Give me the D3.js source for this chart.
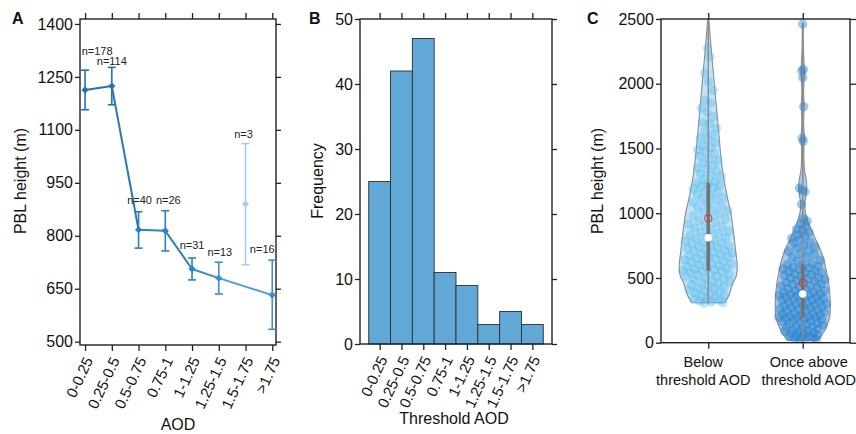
<!DOCTYPE html>
<html><head><meta charset="utf-8">
<script src="https://cdn.jsdelivr.net/npm/d3@7"></script>
<style>
body{margin:0;background:#fff;}
svg{display:block;font-family:"Liberation Sans",Arial,Helvetica,sans-serif;}
</style></head><body>
<svg id="chart" width="856" height="434"></svg>
<script>
// ---------------- DATA ----------------
const aodCats = ["0-0.25","0.25-0.5","0.5-0.75","0.75-1","1-1.25","1.25-1.5","1.5-1.75",">1.75"];
const pblMean  = [1213,1224,817,814,706,680,890,632];
const pblUpper = [1269,1277,868,871,737,725,1061,731];
const pblLower = [1157,1171,765,757,675,635,718,535];
const sampleN  = [178,114,40,26,31,13,3,16];
const pblTicks = [500,650,800,950,1100,1250,1400];

const thresholdCats = ["0-0.25","0.25-0.5","0.5-0.75","0.75-1","1-1.25","1.25-1.5","1.5-1.75",">1.75"];
const frequency = [25,42,47,11,9,3,5,3];
const freqTicks = [0,10,20,30,40,50];

const groupLabels = [["Below","threshold AOD"],["Once above","threshold AOD"]];
const violinTicks = [0,500,1000,1500,2000,2500];
const belowPBL = [305,310,314,322,328,335,341,350,356,368,372,385,391,396,408,415,419,431,440,447,455,462,470,474,487,493,500,509,515,522,530,533,541,548,552,556,
  562,568,575,580,588,594,600,607,612,620,627,633,640,646,652,660,665,672,680,686,693,700,706,712,720,728,735,741,748,756,763,770,778,786,795,803,811,
  820,830,842,851,860,872,883,895,905,918,930,941,955,968,980,993,1005,1018,1030,1045,1058,1072,1085,1098,1110,1122,1135,1148,1160,1172,1185,1196,1205,1215,1226,1235,
  1245,1262,1280,1290,1305,1322,1340,1352,1370,1388,1405,1420,1440,1458,1475,1490,1505,1522,1545,1565,1580,1605,1630,1655,1690,1700,1745,1780,1812,1850,1870,1950,2016,2083,2209,2276];
const abovePBL = [22,25,30,34,38,44,47,52,58,61,66,72,78,83,88,94,99,105,112,118,122,128,133,140,146,150,157,162,168,173,178,182,187,190,193,197,
  201,206,212,216,221,227,231,237,242,246,252,257,261,268,272,277,283,286,292,297,301,306,312,316,322,327,331,338,342,347,351,356,362,366,370,373,376,
  381,387,391,399,403,411,416,424,429,437,441,449,454,462,466,475,479,487,492,500,504,513,517,526,530,538,543,551,556,564,569,577,582,591,596,605,
  612,630,638,655,662,680,688,706,712,731,740,752,771,779,799,806,826,833,854,868,877,902,918,938,958,
  1068,1166,1178,1195,1557,1578,1822,2049,2098,2111,2461];
// violin outlines (value, relative density)
const belowProfileValue   = [309,368,450,520,600,700,820,1000,1100,1200,1334,1500,1700,1900,2100,2300,2520];
const belowProfileDensity = [.57,.72,.83,.97,1.0,.95,.89,.78,.68,.59,.49,.41,.33,.25,.17,.09,.01];
const aboveProfileValue   = [20,60,120,200,300,430,560,690,820,920,1000,1076,1130,1200,1260,1334,1500,1570,1700,1830,1950,2080,2300,2466];
const aboveProfileDensity = [.52,.66,.81,.93,.95,.91,.81,.66,.40,.21,.10,.07,.11,.14,.12,.06,.04,.06,.03,.05,.03,.055,.02,.017];
const statQ1 = [556,196], statMedian = [811,376], statQ3 = [1235,605], statMean = [961,463];
const statMin = [309,20], statMax = [2520,2466];

// ---------------- STYLE ----------------
const ptColors = ["#2272b8","#2272b8","#2a7dc1","#2c80c4","#2c80c4","#3a8ed0","#a7cdea","#3a8ed0"];
const segColors = ["#2272b8","#2878bd","#2c80c4","#2c80c4","#3a8ed0","#4a9dd8"];
const lblDx = [12,0,1,3,0,1,-2,-10];
const lblDy = [-15.5,-2,-7.5,-7,-9,-6,-6,-7];
const fmt = d3.format("d");

const svg = d3.select("#chart");
svg.append("rect").attr("width",856).attr("height",434).attr("fill","#fff");
const INK = "#222";

function styleAxis(g, fs){
  g.select(".domain").remove();
  g.selectAll(".tick line").attr("stroke",INK).attr("stroke-width",1.3);
  g.selectAll(".tick text").attr("fill","#111").attr("font-size",fs||16).attr("font-family",null);
}
function frame(x0,y0,x1,y1){
  svg.append("rect").attr("x",x0).attr("y",y0).attr("width",x1-x0).attr("height",y1-y0)
    .attr("fill","none").attr("stroke",INK).attr("stroke-width",1.4);
}
function rotLabels(g){
  g.selectAll(".tick text").attr("text-anchor","end").attr("x",0).attr("y",0).attr("dy","0.35em")
    .attr("transform","translate(3,13) rotate(-65)").attr("font-size",15);
}
function panelLabel(t,x,y){
  svg.append("text").attr("x",x).attr("y",y).attr("font-weight","bold").attr("font-size",16).attr("fill","#111").text(t);
}
function yTitle(t,x,y){
  svg.append("text").attr("transform",`translate(${x},${y}) rotate(-90)`).attr("text-anchor","middle")
    .attr("font-size",16).attr("fill","#111").text(t);
}

// ---------------- PANEL A ----------------
const xA = d3.scaleLinear().domain([-0.19,7.14]).range([80,276]);
const yA = d3.scaleLinear().domain([490.6,1414]).range([345,19]);
const idx = d3.range(aodCats.length);

svg.append("g").attr("transform","translate(80,0)").call(d3.axisLeft(yA).tickValues(pblTicks).tickFormat(fmt).tickSize(5).tickPadding(2)).call(styleAxis);
svg.append("g").attr("transform","translate(276,0)").call(d3.axisRight(yA).tickValues(pblTicks).tickSize(5).tickFormat("")).call(styleAxis);
svg.append("g").attr("transform","translate(0,19)").call(d3.axisTop(xA).tickValues(idx).tickSize(6).tickFormat("")).call(styleAxis);
svg.append("g").attr("transform","translate(0,345)").call(d3.axisBottom(xA).tickValues(idx).tickSize(6).tickFormat(i=>aodCats[i])).call(styleAxis).call(rotLabels);
frame(80,19,276,345);

const linked = idx.filter(i=>sampleN[i]>=10);
for(let k=0;k<linked.length-1;k++){
  const a=linked[k], b=linked[k+1];
  svg.append("line").attr("x1",xA(a)).attr("y1",yA(pblMean[a])).attr("x2",xA(b)).attr("y2",yA(pblMean[b]))
    .attr("stroke",segColors[k]).attr("stroke-width",2);
}
idx.forEach(i=>{
  const x=xA(i), c=ptColors[i];
  svg.append("line").attr("x1",x).attr("x2",x).attr("y1",yA(pblLower[i])).attr("y2",yA(pblUpper[i])).attr("stroke",c).attr("stroke-width",1.6);
  [pblLower[i],pblUpper[i]].forEach(v=>svg.append("line").attr("x1",x-4).attr("x2",x+4).attr("y1",yA(v)).attr("y2",yA(v)).attr("stroke",c).attr("stroke-width",1.6));
  svg.append("path").attr("d",d3.symbol(d3.symbolSquare,26)()).attr("transform",`translate(${x},${yA(pblMean[i])}) rotate(45)`).attr("fill",c);
  svg.append("text").attr("x",x+lblDx[i]).attr("y",yA(pblUpper[i])+lblDy[i]).attr("text-anchor","middle")
    .attr("font-size",11).attr("fill","#222").text("n="+sampleN[i]);
});
yTitle("PBL height (m)",26,181);
svg.append("text").attr("x",178).attr("y",430).attr("text-anchor","middle").attr("font-size",16).attr("fill","#111").text("AOD");
panelLabel("A",12,24);

// ---------------- PANEL B ----------------
const xB = d3.scaleLinear().domain([-0.9,7.9]).range([360,552]);
const yB = d3.scaleLinear().domain([0,50]).range([344,19]);
const idxB = d3.range(thresholdCats.length);
svg.append("g").attr("transform","translate(360,0)").call(d3.axisLeft(yB).tickValues(freqTicks).tickFormat(fmt).tickSize(5).tickPadding(2)).call(styleAxis);
svg.append("g").attr("transform","translate(552,0)").call(d3.axisRight(yB).tickValues(freqTicks).tickSize(5).tickFormat("")).call(styleAxis);
svg.append("g").attr("transform","translate(0,19)").call(d3.axisTop(xB).tickValues(idxB).tickSize(6).tickFormat("")).call(styleAxis);
svg.append("g").attr("transform","translate(0,344)").call(d3.axisBottom(xB).tickValues(idxB).tickSize(6).tickFormat(i=>thresholdCats[i])).call(styleAxis).call(rotLabels);
svg.append("g").selectAll("rect").data(frequency).join("rect")
  .attr("x",(d,i)=>xB(i-0.5)).attr("width",(d,i)=>xB(i+0.5)-xB(i-0.5))
  .attr("y",d=>yB(d)).attr("height",d=>yB(0)-yB(d))
  .attr("fill","#62a8d7").attr("stroke","#2b2f33").attr("stroke-width",0.9);
frame(360,19,552,344);
yTitle("Frequency",323,181);
svg.append("text").attr("x",454).attr("y",424).attr("text-anchor","middle").attr("font-size",16).attr("fill","#111").text("Threshold AOD");
panelLabel("B",309,24);

// ---------------- PANEL C ----------------
const xC = d3.scaleLinear().domain([-0.5,1.5]).range([661,850]);
const yC = d3.scaleLinear().domain([0,2500]).range([342.7,19]);
const wC = d3.scaleLinear().domain([0,1]).range([0,29]);
svg.append("defs").append("clipPath").attr("id","clipC").append("rect").attr("x",661).attr("y",19).attr("width",189).attr("height",323.7);
svg.append("g").attr("transform","translate(661,0)").call(d3.axisLeft(yC).tickValues(violinTicks).tickFormat(fmt).tickSize(5).tickPadding(2)).call(styleAxis);
svg.append("g").attr("transform","translate(850,0)").call(d3.axisRight(yC).tickValues(violinTicks).tickSize(6).tickFormat("")).call(styleAxis);
svg.append("g").attr("transform","translate(0,19)").call(d3.axisTop(xC).tickValues([0,1]).tickSize(6).tickFormat("")).call(styleAxis);
svg.append("g").attr("transform","translate(0,342.7)").call(d3.axisBottom(xC).tickValues([0,1]).tickSize(6).tickFormat("")).call(styleAxis);

const groups = [
  {vals:belowPBL, pv:belowProfileValue, pd:belowProfileDensity, fill:"#bfe4f7", dot:"#4fb5ea", op:0.36, ldx:-5},
  {vals:abovePBL, pv:aboveProfileValue, pd:aboveProfileDensity, fill:"#a9c9e6", dot:"#1f7fcc", op:0.42, ldx:6}
];
const gC = svg.append("g").attr("clip-path","url(#clipC)");
groups.forEach((g,gi)=>{
  const cx = xC(gi);
  const prof = g.pv.map((v,i)=>[v,g.pd[i]]);
  const area = d3.area().curve(d3.curveCatmullRom)
    .y(d=>yC(d[0])).x0(d=>cx-wC(d[1])).x1(d=>cx+wC(d[1]));
  gC.append("path").attr("d",area(prof)).attr("fill",g.fill).attr("stroke","#8c8c8c").attr("stroke-width",1.1);
  const dens = d3.scaleLinear().domain(g.pv).range(g.pd).clamp(true);
  g.vals.forEach((v,i)=>{
    const j = ((i*0.618034+0.37)%1)*2-1;
    gC.append("circle").attr("cx",cx+j*wC(dens(v))*0.9).attr("cy",yC(v)).attr("r",4.7)
      .attr("fill",g.dot).attr("fill-opacity",g.op);
  });
  gC.append("line").attr("x1",cx).attr("x2",cx).attr("y1",yC(statMin[gi])).attr("y2",yC(statMax[gi]))
    .attr("stroke","#8a8a8a").attr("stroke-width",1.4);
  gC.append("line").attr("x1",cx).attr("x2",cx).attr("y1",yC(statQ1[gi])).attr("y2",yC(statQ3[gi]))
    .attr("stroke","#737373").attr("stroke-width",3.6);
  gC.append("circle").attr("cx",cx).attr("cy",yC(statMedian[gi])).attr("r",3.8).attr("fill","#fff");
  gC.append("circle").attr("cx",cx).attr("cy",yC(statMean[gi])).attr("r",3.8).attr("fill","none").attr("stroke","#e0393b").attr("stroke-width",1);
  groupLabels[gi].forEach((t,li)=>svg.append("text").attr("x",cx+g.ldx).attr("y",367+li*17.5).attr("text-anchor","middle")
    .attr("font-size",14.5).attr("fill","#111").text(t));
});
frame(661,19,850,342.7);
yTitle("PBL height (m)",603,181);
panelLabel("C",587,24);
</script></body></html>
